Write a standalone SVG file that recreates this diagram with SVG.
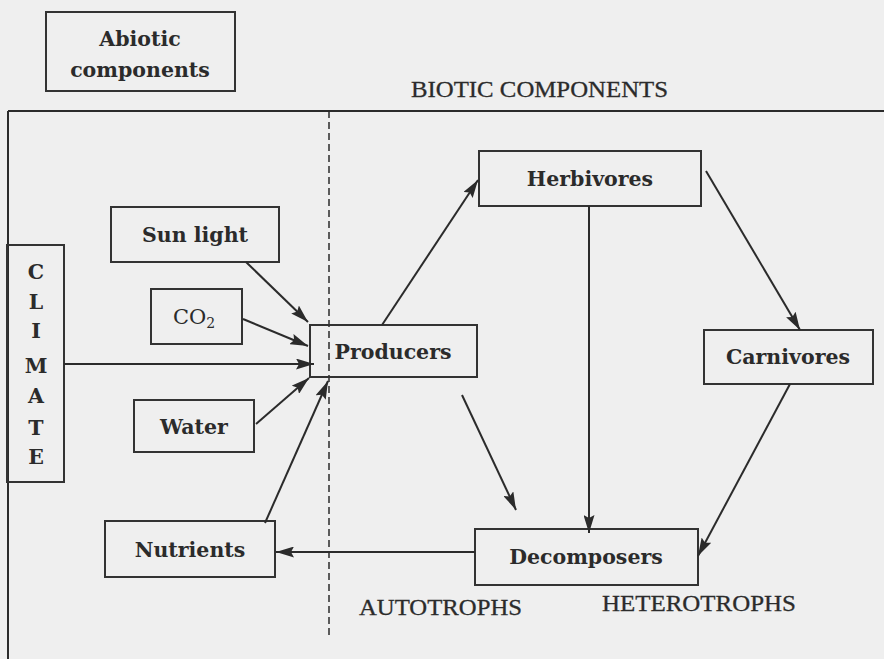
<svg xmlns="http://www.w3.org/2000/svg" width="884" height="659" viewBox="0 0 884 659">
<defs>
<marker id="ah" viewBox="0 0 18 11" refX="18" refY="5.5" markerWidth="18" markerHeight="11" markerUnits="userSpaceOnUse" orient="auto">
<path d="M0,0 L18,5.5 L0,11 L3,5.5 Z" fill="#2b2b2b"/>
</marker>
<style>
.box{fill:none;stroke:#333;stroke-width:2}
.lbl{font-family:"DejaVu Serif","Liberation Serif",serif;font-weight:bold;font-size:20.5px;fill:#2b2b2b;text-anchor:middle}
.cap{font-family:"Liberation Serif","Times New Roman",serif;font-size:24px;fill:#2b2b2b;stroke:#2b2b2b;stroke-width:0.3}
.ln{stroke:#2b2b2b;stroke-width:2;fill:none}
.arr{stroke:#2b2b2b;stroke-width:2;fill:none;marker-end:url(#ah)}
</style>
</defs>
<rect width="884" height="659" fill="#efefef"/>
<g id="frame">
<line class="ln" x1="8" y1="111" x2="884" y2="111"/>
<line class="ln" x1="8" y1="111" x2="8" y2="659"/>
<line x1="329" y1="111" x2="329" y2="635" stroke="#2b2b2b" stroke-width="1.5" stroke-dasharray="7,4"/>
<text class="cap" x="411" y="97" textLength="257" lengthAdjust="spacingAndGlyphs">BIOTIC COMPONENTS</text>
<text class="cap" x="359" y="615" textLength="163" lengthAdjust="spacingAndGlyphs">AUTOTROPHS</text>
<text class="cap" x="602" y="611" textLength="194" lengthAdjust="spacingAndGlyphs">HETEROTROPHS</text>
</g>
<g id="abiotic">
<rect class="box" x="46" y="12" width="189" height="79"/>
<text class="lbl" x="140" y="46">Abiotic</text>
<text class="lbl" x="140" y="77">components</text>
</g>
<g id="climate">
<rect class="box" x="7" y="245" width="57" height="237"/>
<text class="lbl" x="36" y="279">C</text>
<text class="lbl" x="36" y="309">L</text>
<text class="lbl" x="36" y="338">I</text>
<text class="lbl" x="36" y="373">M</text>
<text class="lbl" x="36" y="403">A</text>
<text class="lbl" x="36" y="435">T</text>
<text class="lbl" x="36" y="464">E</text>
</g>
<g id="sunlight">
<rect class="box" x="111" y="207" width="168" height="55"/>
<text class="lbl" x="195" y="242">Sun light</text>
</g>
<g id="co2">
<rect class="box" x="151" y="289" width="91" height="55"/>
<text class="lbl" x="194" y="324" style="font-weight:normal;font-size:21px">CO<tspan style="font-size:14px" dy="4">2</tspan></text>
</g>
<g id="water">
<rect class="box" x="134" y="400" width="120" height="52"/>
<text class="lbl" x="194" y="434">Water</text>
</g>
<g id="nutrients">
<rect class="box" x="105" y="521" width="170" height="56"/>
<text class="lbl" x="190" y="557">Nutrients</text>
</g>
<g id="producers">
<rect class="box" x="310" y="325" width="167" height="52"/>
<text class="lbl" x="393" y="359">Producers</text>
</g>
<g id="herbivores">
<rect class="box" x="479" y="151" width="222" height="55"/>
<text class="lbl" x="590" y="186">Herbivores</text>
</g>
<g id="carnivores">
<rect class="box" x="704" y="330" width="169" height="54"/>
<text class="lbl" x="788" y="364">Carnivores</text>
</g>
<g id="decomposers">
<rect class="box" x="475" y="529" width="223" height="56"/>
<text class="lbl" x="586" y="564">Decomposers</text>
</g>
<g id="connectors">
<line class="arr" x1="246" y1="262" x2="308" y2="322"/>
<line class="arr" x1="243" y1="319" x2="308" y2="346"/>
<line class="arr" x1="64" y1="364" x2="314" y2="364"/>
<line class="arr" x1="256" y1="424" x2="309" y2="378"/>
<line class="arr" x1="265" y1="523" x2="328" y2="381"/>
<line class="arr" x1="382" y1="325" x2="478" y2="180"/>
<line class="arr" x1="589" y1="206" x2="589" y2="533"/>
<line class="arr" x1="706" y1="171" x2="800" y2="330"/>
<line class="arr" x1="462" y1="395" x2="516" y2="510"/>
<line class="arr" x1="790" y1="384" x2="698" y2="556"/>
<line class="arr" x1="475" y1="552" x2="276" y2="552"/>
</g>
</svg>
